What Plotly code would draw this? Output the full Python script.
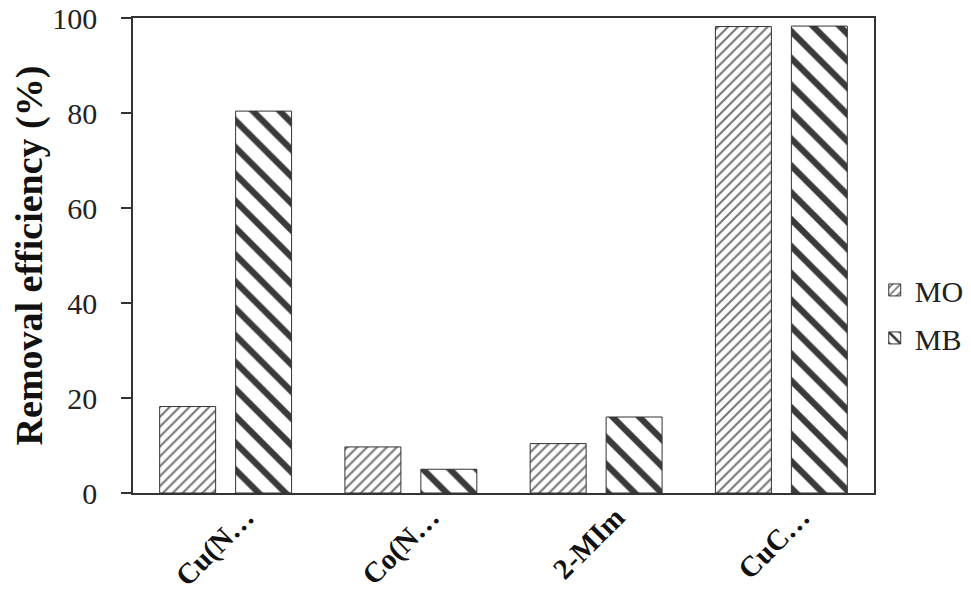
import plotly.graph_objects as go

categories = ['Cu(N…', 'Co(N…', '2-MIm', 'CuC…']
mo_values = [18.2, 9.7, 10.4, 98.2]
mb_values = [80.4, 5.0, 16.0, 98.3]

serif = '"Times New Roman", "Liberation Serif", Times, serif'

fig = go.Figure()

# MO: fine light hatching, MB: coarse dark hatching
fig.add_trace(go.Bar(
    x=categories, y=mo_values, name='MO', legendgroup='mo',
    marker=dict(color='white',
                line=dict(color='#333333', width=1),
                pattern=dict(shape='/', fgcolor='#777777', bgcolor='white',
                             size=7, solidity=0.3, fgopacity=1)),
))
fig.add_trace(go.Bar(
    x=categories, y=mb_values, name='MB', legendgroup='mb',
    marker=dict(color='white',
                line=dict(color='#333333', width=1),
                pattern=dict(shape='\\', fgcolor='#3a3a3a', bgcolor='white',
                             size=19, solidity=0.33, fgopacity=1)),
))

# page body has an 8px margin, so the figure is 16px smaller than the window
fig.update_layout(
    width=955, height=594,
    autosize=False,
    margin=dict(l=125, r=89, t=10, b=109, autoexpand=False),
    plot_bgcolor='white', paper_bgcolor='white',
    barmode='group', bargap=0.18, bargroupgap=0.263,
    font=dict(family=serif, size=30, color='#222222'),
    showlegend=True,
    legend=dict(x=1.001, y=0.377, xanchor='left', yanchor='middle',
                font=dict(family=serif, size=30, color='#222222'),
                traceorder='grouped', tracegroupgap=6,
                bgcolor='rgba(0,0,0,0)'),
)

fig.update_yaxes(
    range=[0, 100], tickvals=[0, 20, 40, 60, 80, 100],
    ticks='outside', ticklen=10, tickwidth=1.5, tickcolor='#333333',
    showline=True, linecolor='#333333', linewidth=1.5, mirror=True,
    showgrid=False, zeroline=False, automargin=False,
    ticklabelstandoff=18, ticklabeloverflow='allow',
    tickfont=dict(family=serif, size=30, color='#222222'),
    title=dict(text='<b>Removal efficiency (%)</b>',
               font=dict(family=serif, size=38, color='#111111'),
               standoff=0),
)
fig.update_xaxes(
    showline=True, linecolor='#333333', linewidth=1.5, mirror=True,
    ticks='', showgrid=False, tickangle=-45, automargin=False,
    ticklabelshift=20, ticklabelstandoff=-6, ticklabeloverflow='allow',
    tickfont=dict(family=serif, size=29, color='#111111', weight='bold'),
)

fig.write_html('out.html')
